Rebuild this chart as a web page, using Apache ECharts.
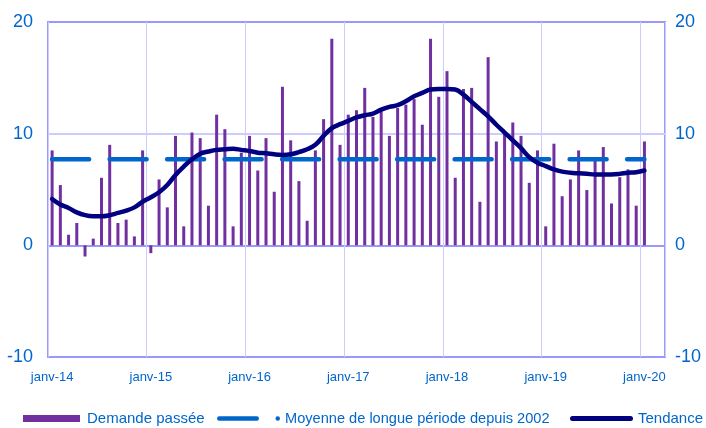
<!DOCTYPE html>
<html>
<head>
<meta charset="utf-8">
<script src="https://cdn.jsdelivr.net/npm/echarts@6/dist/echarts.min.js"></script>
<style>
html,body{margin:0;padding:0;background:#fff;}
#c{width:706px;height:428px;}
</style>
</head>
<body>
<div id="c"></div>
<script>
// ---- data ----
const monthNames = ['janv','févr','mars','avr','mai','juin','juil','août','sept','oct','nov','déc'];
const years = ['14','15','16','17','18','19','20'];
const slotCount = 75; // janv-14 .. mars-20 on the axis

const demandePassee = [
  8.5, 5.4, 0.95, 2.0, -1.0, 0.6, 6.05, 9.0, 2.0, 2.3, 0.8, 8.5,
  -0.7, 5.9, 3.4, 9.8, 1.7, 10.1, 9.6, 3.55, 11.7, 10.4, 1.7, 8.3,
  9.8, 6.7, 9.6, 4.8, 14.2, 9.4, 5.75, 2.2, 8.5, 11.3, 18.5, 9.0,
  11.7, 12.1, 14.1, 11.5, 12.0, 9.8, 12.3, 12.6, 13.1, 10.8, 18.5, 13.3,
  15.6, 6.05, 14.0, 14.1, 3.9, 16.85, 9.3, 10.0, 11.0, 9.8, 5.6, 8.5,
  1.7, 9.1, 4.4, 5.9, 8.5, 4.95, 7.6, 8.8, 3.75, 6.1, 6.8, 3.55,
  9.3
];

const tendance = [
  4.15, 3.65, 3.35, 2.95, 2.7, 2.6, 2.6, 2.7, 2.9, 3.1, 3.4, 3.9,
  4.3, 4.75, 5.4, 6.3, 7.05, 7.7, 8.2, 8.4, 8.55, 8.6, 8.65, 8.55,
  8.45, 8.3, 8.25, 8.15, 8.1, 8.15, 8.35, 8.6, 9.0, 9.8, 10.5, 10.85,
  11.15, 11.45, 11.65, 11.8, 12.15, 12.4, 12.55, 12.9, 13.35, 13.65, 13.95, 14.0,
  14.0, 13.95, 13.5, 12.85, 12.2, 11.55, 10.8, 10.1, 9.4, 8.7, 7.9, 7.4,
  7.1, 6.8, 6.6, 6.5, 6.45, 6.4, 6.35, 6.35, 6.35, 6.4, 6.5, 6.55,
  6.7
];

const moyenneLongue = 7.7;

const yTicks = [-10, 0, 10, 20];

// ---- build ----
const categories = [];
for (let i = 0; i < slotCount; i++) {
  categories.push(monthNames[i % 12] + '-' + years[Math.floor(i / 12)]);
}
const moyenneData = demandePassee.map(() => moyenneLongue);

const blue = '#0066CC';
const font = 'Liberation Sans, Arial, sans-serif';

const chart = echarts.init(document.getElementById('c'), null, {renderer: 'canvas'});
chart.setOption({
  animation: false,
  backgroundColor: '#ffffff',
  grid: {
    left: 48, right: 41, top: 22, bottom: 71,
    show: true, borderColor: '#9999FF', borderWidth: 2, backgroundColor: 'transparent'
  },
  xAxis: {
    type: 'category',
    data: categories,
    boundaryGap: true,
    axisLine: {show: false, onZero: false},
    axisTick: {show: false},
    axisLabel: {
      interval: 11, color: blue, fontSize: 13, fontFamily: font, margin: 14
    },
    splitLine: {show: true, interval: 11, lineStyle: {color: '#CCCCFF', width: 1}}
  },
  yAxis: [
    {
      type: 'value', min: yTicks[0], max: yTicks[yTicks.length - 1], interval: 10,
      axisLine: {show: false}, axisTick: {show: false},
      axisLabel: {color: blue, fontSize: 18, fontFamily: font, margin: 15},
      splitLine: {show: true, lineStyle: {color: ['#9999FF', '#9999FF', '#CCCCFF', '#9999FF'], width: 2}}
    },
    {
      type: 'value', min: yTicks[0], max: yTicks[yTicks.length - 1], interval: 10, position: 'right',
      axisLine: {show: false}, axisTick: {show: false},
      axisLabel: {color: blue, fontSize: 18, fontFamily: font, margin: 10},
      splitLine: {show: false}
    }
  ],
  legend: [
    {
      left: 18, top: 406, itemWidth: 57, itemHeight: 7, itemGap: 0,
      data: [{name: 'Demande passée', icon: 'rect'}],
      textStyle: {color: blue, fontSize: 15, fontFamily: font, padding: [0, 0, 0, 2]}
    },
    {
      left: 212, top: 406, itemWidth: 63, itemHeight: 4.5, itemGap: 0,
      data: [{name: 'Moyenne de longue période depuis 2002',
        icon: 'path://M2.25,0 H39.75 A2.25,2.25 0 0 1 39.75,4.5 H2.25 A2.25,2.25 0 0 1 2.25,0 Z M60.75,0 A2.25,2.25 0 1 1 60.75,4.5 A2.25,2.25 0 1 1 60.75,0 Z'}],
      textStyle: {color: blue, fontSize: 14.6, fontFamily: font, padding: [0, 0, 0, 0]}
    },
    {
      left: 565, top: 406, itemWidth: 63, itemHeight: 5, itemGap: 0,
      data: [{name: 'Tendance', icon: 'path://M2.5,0 H60.5 A2.5,2.5 0 0 1 60.5,5 H2.5 A2.5,2.5 0 0 1 2.5,0 Z'}],
      textStyle: {color: blue, fontSize: 15, fontFamily: font, padding: [0, 0, 0, 0]}
    }
  ],
  series: [
    {
      name: 'Demande passée', type: 'bar', data: demandePassee,
      barWidth: 3, itemStyle: {color: '#7030A0'}, z: 2
    },
    {
      name: 'Moyenne de longue période depuis 2002', type: 'line', data: moyenneData,
      symbol: 'none', itemStyle: {color: blue},
      lineStyle: {color: blue, width: 4.5, type: [37, 20.5], cap: 'round'}, z: 3
    },
    {
      name: 'Tendance', type: 'line', data: tendance, smooth: 0.4,
      symbol: 'none', itemStyle: {color: '#000080'},
      lineStyle: {color: '#000080', width: 4.5, cap: 'round', join: 'round'}, z: 4
    }
  ]
});
</script>
</body>
</html>
